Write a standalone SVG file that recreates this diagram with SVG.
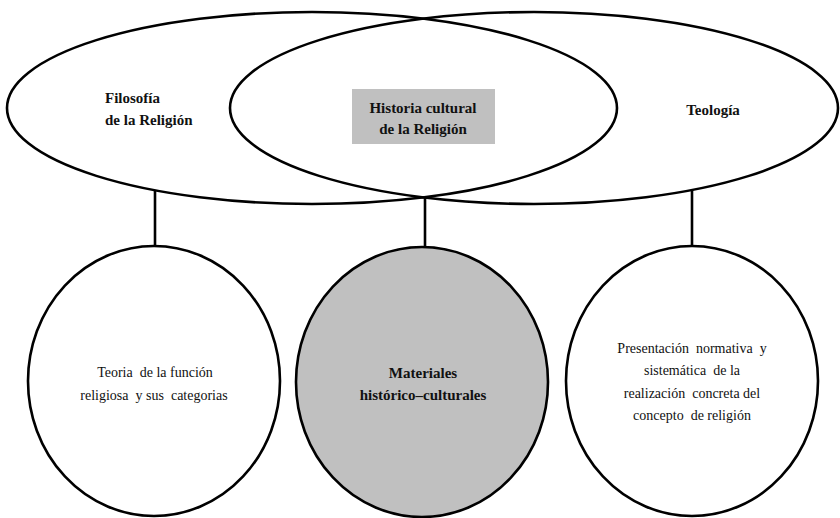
<svg xmlns="http://www.w3.org/2000/svg" width="840" height="518" viewBox="0 0 840 518">
<style>
.shape{fill:none;stroke:#000;stroke-width:2.6}
.fillw{fill:#fff;stroke:#000;stroke-width:2.6}
.fillg{fill:#c0c0c0;stroke:#000;stroke-width:2.6}
.conn{stroke:#000;stroke-width:2.6;fill:none}
.b{font-weight:bold;font-size:15px}
.r{font-size:14px;white-space:pre}
.m{text-anchor:middle}
</style>
<rect width="840" height="518" fill="#fff"/>
<g font-family="Liberation Serif, DejaVu Serif, serif" fill="#111">
<g id="ellipses">
<g id="filosofia">
<ellipse class="shape" cx="312" cy="108" rx="305" ry="96"/>
<text class="b" x="105" y="103">Filosofía</text>
<text class="b" x="105" y="125">de la Religión</text>
</g>
<g id="teologia">
<ellipse class="shape" cx="534" cy="108" rx="304" ry="96"/>
<text class="b m" x="713" y="115">Teología</text>
</g>
<g id="historia">
<rect x="352" y="89" width="143" height="55" fill="#c0c0c0"/>
<text class="b m" x="423" y="113">Historia cultural</text>
<text class="b m" x="423" y="134">de la Religión</text>
</g>
</g>
<g id="connectors">
<line class="conn" x1="155" y1="191" x2="155" y2="246"/>
<line class="conn" x1="425" y1="197" x2="425" y2="247"/>
<line class="conn" x1="692" y1="190" x2="692" y2="246"/>
</g>
<g id="teoria">
<ellipse class="fillw" cx="154" cy="381" rx="126" ry="135"/>
<text class="r m" x="155" y="377" xml:space="preserve">Teoria  de la función</text>
<text class="r m" x="154" y="400" xml:space="preserve">religiosa  y sus  categorias</text>
</g>
<g id="materiales">
<ellipse class="fillg" cx="422" cy="382" rx="126" ry="135"/>
<text class="b m" x="423" y="378">Materiales</text>
<text class="b m" x="423" y="400">histórico–culturales</text>
</g>
<g id="presentacion">
<ellipse class="fillw" cx="692" cy="381" rx="126" ry="135"/>
<text class="r m" x="692" y="353" xml:space="preserve">Presentación  normativa  y</text>
<text class="r m" x="692" y="375" xml:space="preserve">sistemática  de la</text>
<text class="r m" x="692" y="398" xml:space="preserve">realización  concreta del</text>
<text class="r m" x="692" y="420" xml:space="preserve">concepto  de religión</text>
</g>
</g>
</svg>
